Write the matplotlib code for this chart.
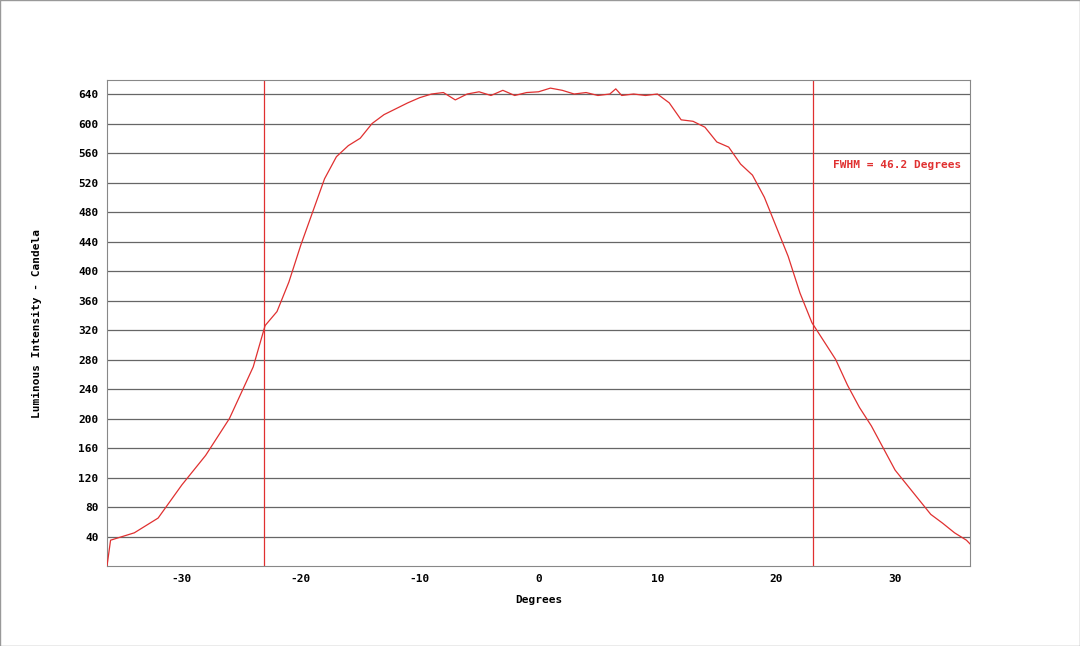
import matplotlib
matplotlib.use("Agg")
import matplotlib.pyplot as plt

# Beam profile
degrees = [-36.3, -36, -34, -32, -30, -28, -26, -24, -23, -22, -21, -20, -19, -18, -17,
           -16, -15, -14, -13, -12, -11, -10, -9, -8, -7, -6, -5, -4, -3, -2, -1,
           0, 1, 2, 3, 4, 5, 6, 6.5, 7, 8, 9, 10, 11, 12, 13, 14, 15, 16, 17, 18,
           19, 20, 21, 22, 23, 24, 25, 26, 27, 28, 29, 30, 31, 32, 33, 34, 35, 36, 36.3]
candela = [0, 35, 45, 65, 110, 150, 200, 270, 326, 345, 385, 435, 480, 525, 555,
           570, 580, 600, 612, 620, 628, 635, 640, 642, 632, 640, 643, 638, 645, 638, 642,
           643, 648, 645, 640, 642, 638, 640, 647, 638, 640, 638, 640, 628, 605, 603, 595, 575, 568, 545, 530,
           500, 460, 420, 370, 330, 305, 280, 245, 215, 190, 160, 130, 110, 90, 70, 58, 45, 35, 30]
fwhm_edges = [-23.1, 23.1]
y_ticks = list(range(40, 641, 40))
x_ticks = [-30, -20, -10, 0, 10, 20, 30]

red = '#e03030'
font = dict(family='DejaVu Sans Mono', fontsize=8, fontweight='bold')

fig = plt.figure(figsize=(10.8, 6.46), dpi=100)
fig.patches.append(plt.Rectangle((0, 0), 1, 1, transform=fig.transFigure,
                                 fill=False, edgecolor='#999999', lw=1))
ax = fig.add_axes([107/1080, 80/646, 863/1080, 486/646])

for yv in y_ticks:
    ax.axhline(yv, color='#666666', lw=0.9, zorder=1)
for xv in fwhm_edges:
    ax.axvline(xv, color=red, lw=0.9, zorder=2)
ax.plot(degrees, candela, color=red, lw=0.9, zorder=3)

ax.set_xlim(-36.3, 36.3)
ax.set_ylim(0, 659)
ax.set_xticks(x_ticks)
ax.set_yticks(y_ticks)
ax.set_xticklabels([str(v) for v in x_ticks], **font)
ax.set_yticklabels([str(v) for v in y_ticks], **font)
ax.tick_params(length=0, pad=6)
for s in ax.spines.values():
    s.set_color('#888888')
ax.set_xlabel('Degrees', labelpad=8, **font)
ax.set_ylabel('Luminous Intensity - Candela', labelpad=26, **font)
ax.text(24.8, 540, 'FWHM = 46.2 Degrees', color=red, **font)

fig.savefig('out.png', dpi=100)
